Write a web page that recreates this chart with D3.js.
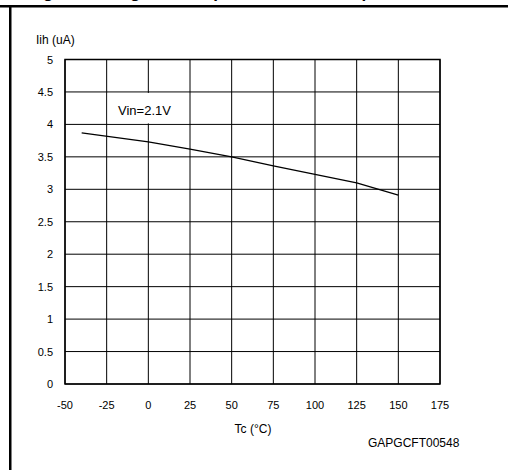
<!DOCTYPE html>
<html>
<head>
<meta charset="utf-8">
<script src="https://cdn.jsdelivr.net/npm/d3@7"></script>
<style>
  body { margin: 0; background: #fff; }
  svg { display: block; font-family: "Liberation Sans", Arial, sans-serif; }
</style>
</head>
<body>
<svg id="chart" width="508" height="470"></svg>
<script>
const tempC = [-40, 0, 25, 50, 75, 100, 125, 150];
const iihValues = [3.87, 3.73, 3.62, 3.5, 3.36, 3.23, 3.1, 2.91];
const xTicks = [-50, -25, 0, 25, 50, 75, 100, 125, 150, 175];
const yTicks = [0, 0.5, 1, 1.5, 2, 2.5, 3, 3.5, 4, 4.5, 5];
const seriesLabel = "Vin=2.1V";

const svg = d3.select("#chart");
const plotLeft = 65, plotRight = 440, plotTop = 59.5, plotBottom = 384;

const x = d3.scaleLinear().domain([-50, 175]).range([plotLeft, plotRight]);
const y = d3.scaleLinear().domain([0, 5]).range([plotBottom, plotTop]);

// page heading, cut off by the top edge as in the source page
svg.append("text")
    .attr("x", 28)
    .attr("y", -2)
    .attr("font-size", 17)
    .attr("font-weight", "bold")
    .text("Figure 12. High level input current vs temperature");
svg.append("rect")
    .attr("x", 0).attr("y", 5).attr("width", 508).attr("height", 2.5)
    .attr("fill", "#000");
svg.append("rect")
    .attr("x", 9).attr("y", 7).attr("width", 2.5).attr("height", 463)
    .attr("fill", "#000");

// grid
svg.append("g")
    .selectAll("line")
    .data(xTicks)
    .join("line")
    .attr("x1", d => x(d)).attr("x2", d => x(d))
    .attr("y1", plotTop).attr("y2", plotBottom)
    .attr("stroke", "#000").attr("stroke-width", 1);

svg.append("g")
    .selectAll("line")
    .data(yTicks)
    .join("line")
    .attr("x1", plotLeft).attr("x2", plotRight)
    .attr("y1", d => y(d)).attr("y2", d => y(d))
    .attr("stroke", "#000").attr("stroke-width", 1);

// white box behind the series label (hides the 0 °C gridline there)
svg.append("rect")
    .attr("x", x(-25) + 1).attr("y", y(4.5) + 1)
    .attr("width", x(25) - x(-25) - 2).attr("height", y(4) - y(4.5) - 2)
    .attr("fill", "#fff");

svg.append("rect")
    .attr("x", plotLeft).attr("y", plotTop)
    .attr("width", plotRight - plotLeft).attr("height", plotBottom - plotTop)
    .attr("fill", "none").attr("stroke", "#000").attr("stroke-width", 1.5);

// tick labels
svg.append("g")
    .selectAll("text")
    .data(yTicks)
    .join("text")
    .attr("x", 53)
    .attr("y", d => y(d) + 4)
    .attr("text-anchor", "end")
    .attr("font-size", 11)
    .text(d => d);

svg.append("g")
    .selectAll("text")
    .data(xTicks)
    .join("text")
    .attr("x", d => x(d))
    .attr("y", 409)
    .attr("text-anchor", "middle")
    .attr("font-size", 11)
    .text(d => d);

// axis titles
svg.append("text")
    .attr("x", 36).attr("y", 44)
    .attr("font-size", 12)
    .text("Iih (uA)");
svg.append("text")
    .attr("x", 253).attr("y", 433)
    .attr("text-anchor", "middle")
    .attr("font-size", 12)
    .text("Tc (°C)");
svg.append("text")
    .attr("x", 368).attr("y", 447)
    .attr("font-size", 12)
    .text("GAPGCFT00548");

// series
const line = d3.line()
    .x((d, i) => x(tempC[i]))
    .y(d => y(d));
svg.append("path")
    .datum(iihValues)
    .attr("d", line)
    .attr("fill", "none")
    .attr("stroke", "#000")
    .attr("stroke-width", 1.3);

svg.append("text")
    .attr("x", 118).attr("y", 115)
    .attr("font-size", 13)
    .text(seriesLabel);
</script>
</body>
</html>
